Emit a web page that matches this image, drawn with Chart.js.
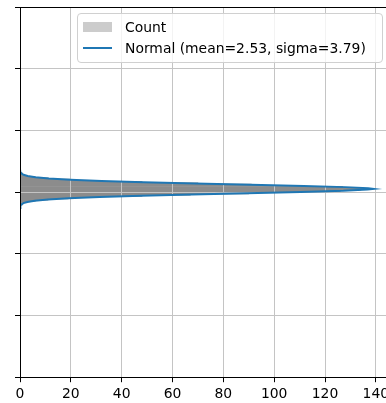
<!DOCTYPE html>
<html>
<head>
<meta charset="utf-8">
<script src="https://cdn.jsdelivr.net/npm/chart.js@4.4.1/dist/chart.umd.min.js"></script>
<style>
  html, body { margin: 0; padding: 0; background: #fff; overflow: hidden; }
  #wrap { position: relative; width: 386px; height: 403px; }
  #legend {
    position: absolute; left: 77px; top: 13px; width: 306px; height: 50px;
    border: 1px solid #d0d0d0; border-radius: 4px; background: rgba(255,255,255,0.8);
    font-family: "DejaVu Sans", sans-serif; font-size: 13.9px; color: #000;
    box-sizing: border-box;
  }
  .item { position: absolute; left: 0; height: 17px; line-height: 17px; white-space: nowrap; }
  .item span.txt { position: absolute; left: 47px; top: 0; }
  .patch { position: absolute; left: 5px; top: 3px; width: 29px; height: 10px; background: #cccccc; }
  .line { position: absolute; left: 5px; top: 7px; width: 29px; height: 2px; background: #1f77b4; }
</style>
</head>
<body>
<div id="wrap">
  <canvas id="c"></canvas>
  <div id="legend"></div>
</div>
<script>
// Histogram bins (value, centres) and counts
const binCenters = [-12, -11, -10, -9, -8, -7, -6, -5, -4, -3, -2, -1, 0, 1, 2, 3, 4, 5, 6, 7, 8, 9, 10, 11, 12, 13, 14, 15, 16];
const binCounts  = [0, 0, 1, 1, 3, 6, 11, 19, 31, 48, 67, 90, 110, 126, 134, 135, 127, 112, 91, 70, 48, 32, 20, 11, 6, 3, 1, 1, 0];

// Normal curve sample points (value, count)
const curveValues = [-13, -12, -11, -10, -9, -8, -7, -6, -5, -4, -3, -2, -1, 0, 1, 2, 2.5, 3, 4, 5, 6, 7, 8, 9, 10, 11, 12, 13, 14, 15, 16, 17, 18];
const curveCounts = [0.03, 0.09, 0.24, 0.58, 1.35, 2.9, 5.8, 11.0, 19.2, 31.3, 47.6, 67.6, 89.4, 110.4, 127.2, 136.7, 139, 137.0, 128.0, 111.6, 90.8, 68.8, 48.7, 32.1, 19.8, 11.4, 6.1, 3.0, 1.4, 0.6, 0.25, 0.09, 0.03];

const seriesLabels = ["Count", "Normal (mean=2.53, sigma=3.79)"];

// Axis settings
const xMin = 0, xMax = 144, xStep = 20;
const yMin = -150, yMax = 150, yStep = 50;

const gridLayer = {
  id: 'gridLayer',
  beforeDatasetDraw(chart, args) {
    if (args.index === 1) {
      const ca = chart.chartArea;
      chart.scales.x.drawGrid(ca);
      chart.scales.y.drawGrid(ca);
    }
  },
  afterDraw(chart) {
    const ctx = chart.ctx, ca = chart.chartArea;
    chart.scales.x.drawBorder();
    chart.scales.y.drawBorder();
    ctx.save();
    ctx.strokeStyle = '#000';
    ctx.lineWidth = 1;
    ctx.beginPath();
    ctx.moveTo(ca.left, Math.round(ca.top) + 0.5);
    ctx.lineTo(ca.right, Math.round(ca.top) + 0.5);
    ctx.stroke();
    ctx.restore();
  }
};

const barData = binCenters.map((v, i) => ({ x: binCounts[i], y: v }));
const lineData = curveValues.map((v, i) => ({ x: curveCounts[i], y: v }));

new Chart(document.getElementById('c'), {
  type: 'bar',
  data: {
    datasets: [
      {
        type: 'bar', label: seriesLabels[0], data: barData,
        backgroundColor: '#8c8c8c', borderWidth: 0,
        barPercentage: 1, categoryPercentage: 1, order: 1
      },
      {
        type: 'line', label: seriesLabels[1], data: lineData, indexAxis: 'y',
        borderColor: '#1f77b4', borderWidth: 2, pointRadius: 0, tension: 0,
        fill: false, order: 0
      }
    ]
  },
  options: {
    indexAxis: 'y',
    responsive: true, maintainAspectRatio: false, animation: false,
    layout: { padding: { left: 15, top: 7, right: 0, bottom: -3 } },
    plugins: { legend: { display: false }, tooltip: { enabled: false } },
    scales: {
      x: {
        type: 'linear', min: xMin, max: xMax, offset: false,
        afterFit(scale) { scale.paddingRight = 0; scale.paddingLeft = 0; },
        ticks: { stepSize: xStep, includeBounds: false, padding: 3.6, color: '#000',
                 font: { family: 'DejaVu Sans', size: 13.9 } },
        grid: { color: '#c4c4c4', lineWidth: 1, tickColor: '#000', tickLength: 5, offset: false },
        border: { color: '#000', width: 1 }
      },
      y: {
        type: 'linear', min: yMin, max: yMax, offset: false,
        ticks: { stepSize: yStep, display: false },
        grid: { color: '#c4c4c4', lineWidth: 1, tickColor: '#000', tickLength: 5, offset: false },
        border: { color: '#000', width: 1 }
      }
    }
  },
  plugins: [gridLayer]
});

// HTML legend built from the dataset labels
const lg = document.getElementById('legend');
seriesLabels.forEach((lab, i) => {
  const it = document.createElement('div');
  it.className = 'item';
  it.style.top = (i === 0 ? 5 : 26) + 'px';
  it.style.width = '100%';
  const mk = document.createElement('div');
  mk.className = i === 0 ? 'patch' : 'line';
  const t = document.createElement('span');
  t.className = 'txt';
  t.textContent = lab;
  it.appendChild(mk); it.appendChild(t);
  lg.appendChild(it);
});
</script>
</body>
</html>
